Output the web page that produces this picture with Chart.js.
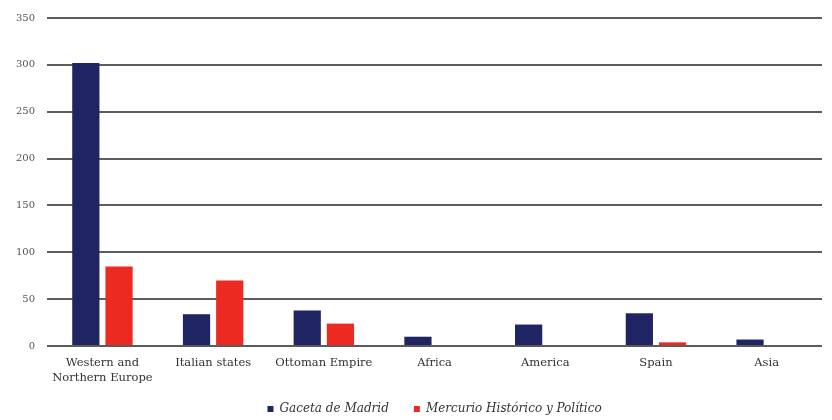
<!DOCTYPE html>
<html>
<head>
<meta charset="utf-8">
<script src="https://cdn.jsdelivr.net/npm/chart.js@4"></script>
<style>
    html, body { margin: 0; padding: 0; background: #fff; }
    #wrap { width: 832px; height: 420px; }
</style>
</head>
<body>
<div id="wrap"><canvas id="regionsChart"></canvas></div>
<script>
// categories and values
const regions = [
    ["Western and", "Northern Europe"],
    "Italian states",
    "Ottoman Empire",
    "Africa",
    "America",
    "Spain",
    "Asia",
];
const gacetaMadrid = [302, 34, 38, 10, 23, 35, 7];
const mercurioHistorico = [85, 70, 24, 0, 0, 4, 0];
const yTicks = [0, 50, 100, 150, 200, 250, 300, 350];

const config = {
    type: "bar",
    data: {
        labels: regions,
        datasets: [
            {
                label: "Gaceta de Madrid",
                data: gacetaMadrid,
                backgroundColor: "#1f2562",
                barPercentage: 0.82,
                categoryPercentage: 0.6,
            },
            {
                label: "Mercurio Histórico y Político",
                data: mercurioHistorico,
                backgroundColor: "#ec2a22",
                barPercentage: 0.82,
                categoryPercentage: 0.6,
            },
        ],
    },
    options: {
        responsive: true,
        maintainAspectRatio: false,
        animation: false,
        layout: {
            padding: { top: 12, right: 10, left: 4, bottom: -5 },
        },
        scales: {
            x: {
                grid: { display: false, drawTicks: false },
                border: { display: false },
                afterFit: (axis) => {
                    axis.height += 3;
                },
                ticks: {
                    color: "#333",
                    padding: 9,
                    maxRotation: 0,
                    font: { family: "DejaVu Serif", size: 11.5, lineHeight: 1.3 },
                },
            },
            y: {
                min: 0,
                max: 350,
                afterBuildTicks: (axis) => {
                    axis.ticks = yTicks.map((v) => ({ value: v }));
                },
                grid: {
                    color: "#5c5c5c",
                    lineWidth: 2,
                    drawTicks: false,
                },
                border: { display: false },
                ticks: {
                    color: "#555",
                    padding: 12,
                    font: { family: "DejaVu Serif", size: 10 },
                },
            },
        },
        plugins: {
            legend: {
                position: "bottom",
                fullSize: false,
                labels: {
                    color: "#333",
                    boxWidth: 6,
                    boxHeight: 6,
                    padding: 6,
                    font: { family: "DejaVu Serif", size: 12, style: "italic" },
                    // wider gap between the two entries, like the original
                    generateLabels: (chart) =>
                        Chart.defaults.plugins.legend.labels
                            .generateLabels(chart)
                            .map((item, i) => (i === 0 ? { ...item, text: item.text + "     " } : item)),
                },
            },
            tooltip: { enabled: false },
        },
    },
};

new Chart(document.getElementById("regionsChart"), config);
</script>
</body>
</html>
